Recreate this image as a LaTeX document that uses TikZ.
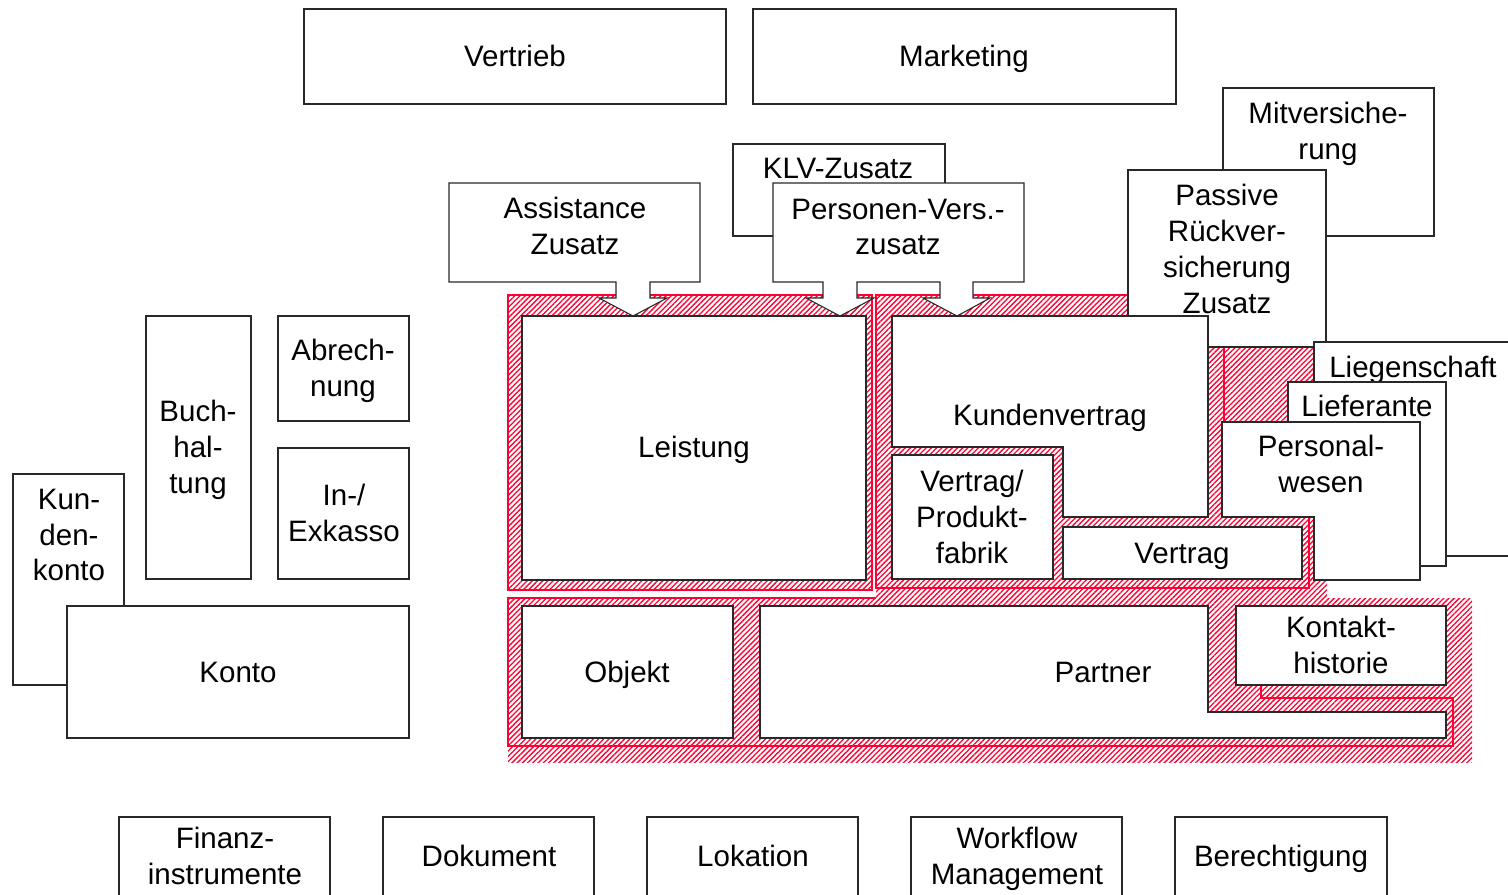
\documentclass[tikz,border=0pt]{standalone}
\usepackage{fontspec}
\setmainfont{Liberation Sans}
\usetikzlibrary{patterns.meta}
\definecolor{hred}{RGB}{255,0,51}
\definecolor{edge}{RGB}{40,40,40}
\begin{document}
\begin{tikzpicture}[x=0.02cm,y=-0.02cm,
  box/.style={draw=edge,fill=white,line width=0.6pt},
  lbl/.style={font=\fontsize{16.8}{20.4}\selectfont,align=center,inner sep=0pt},
  one/.style={lbl,text height=12.3pt,text depth=0pt},
  hatch/.style={preaction={fill=white},pattern={Lines[angle=45,distance=2.1pt,line width=0.75pt]},pattern color=hred},
  grp/.style={draw=hred,line width=1.2pt}]
\useasboundingbox (0,0) rectangle (1508,894);
\clip (0,0) rectangle (1508,894);
% top
\draw[box] (304,9) rectangle (726,104);
\node[one] (vertrieb) at (515,56) {Vertrieb};
\draw[box] (753,9) rectangle (1176,104);
\node[one] (marketing) at (964,56) {Marketing};
% lower group
\path[hatch] (508,598) rectangle (1472,762);
\draw[grp] (508,598) -- (1261,598) -- (1261,698) -- (1453,698) -- (1453,746) -- (508,746) -- cycle;
% Leistung group
\path[hatch] (508,295) rectangle (872,590);
\draw[grp] (508,295) rectangle (872,590);
% Kundenvertrag group
\path[hatch] (876,295) -- (1314,295) -- (1314,580) -- (1327,580) -- (1327,603) -- (876,603) -- cycle;
\draw[grp] (876,295) -- (1224,295) -- (1224,517) -- (1309,517) -- (1309,588) -- (876,588) -- cycle;
% upper boxes
\draw[box] (1223,88) rectangle (1434,236);
\node[lbl] (mitvers) at (1328,134) {Mitversiche-\\rung};
\draw[box] (1128,170) rectangle (1326,347);
\node[lbl] (passive) at (1227,249) {Passive\\Rückver-\\sicherung\\Zusatz};
\draw[box] (733,144) rectangle (945,236);
\node[one] (klv) at (838,168) {KLV-Zusatz};
\draw[box] (773,183) -- (1024,183) -- (1024,282) -- (973,282) -- (973,298) -- (990,298) -- (957,316) -- (923,298) -- (940,298) -- (940,282) -- (857,282) -- (857,298) -- (874,298) -- (840,316) -- (806,298) -- (823,298) -- (823,282) -- (773,282) -- cycle;
\node[lbl] (personen) at (898,227) {Personen-Vers.-\\zusatz};
\draw[box] (449,183) -- (700,183) -- (700,282) -- (650,282) -- (650,298) -- (667,298) -- (633,316) -- (599,298) -- (616,298) -- (616,282) -- (449,282) -- cycle;
\node[lbl] (assistance) at (575,226) {Assistance\\Zusatz};
% Kundenvertrag group content
\draw[box] (892,316) -- (1208,316) -- (1208,517) -- (1063,517) -- (1063,447) -- (892,447) -- cycle;
\node[one] (kundenvertrag) at (1050,415) {Kundenvertrag};
\draw[box] (892,455) rectangle (1053,579);
\node[lbl] (produktfabrik) at (972,517) {Vertrag/\\Produkt-\\fabrik};
% right stack
\draw[box] (1314,342) rectangle (1520,556);
\node[one] (liegenschaft) at (1413,367) {Liegenschaft};
\draw[box] (1288,382) rectangle (1446,566);
\node[one] (lieferante) at (1367,406) {Lieferante};
% hatch patch in front of Lieferante
\path[hatch] (1222,517) rectangle (1314,580);
\draw[grp] (1309,517) -- (1309,588) -- (1280,588);
\draw[box] (1222,422) -- (1420,422) -- (1420,580) -- (1314,580) -- (1314,517) -- (1222,517) -- cycle;
\node[lbl] (personal) at (1321,464) {Personal-\\wesen};
\draw[box] (1063,527) rectangle (1302,579);
\node[one] (vertrag) at (1182,553) {Vertrag};
% Leistung
\draw[box] (522,316) rectangle (866,580);
\node[one] (leistung) at (694,447) {Leistung};
% lower group content
\draw[box] (522,606) rectangle (733,738);
\node[one] (objekt) at (627,672) {Objekt};
\draw[box] (760,606) -- (1208,606) -- (1208,712) -- (1446,712) -- (1446,738) -- (760,738) -- cycle;
\node[one] (partner) at (1103,672) {Partner};
\draw[box] (1236,606) rectangle (1446,685);
\node[lbl] (kontakt) at (1341,645) {Kontakt-\\historie};
% left side
\draw[box] (146,316) rectangle (251,579);
\node[lbl] (buch) at (198,450) {Buch-\\hal-\\tung};
\draw[box] (278,316) rectangle (409,421);
\node[lbl] (abrech) at (343,371) {Abrech-\\nung};
\draw[box] (278,448) rectangle (409,579);
\node[lbl] (inkasso) at (344,513) {In-/\\Exkasso};
\draw[box] (13,474) rectangle (124,685);
\node[lbl] (kundenkonto) at (69,535) {Kun-\\den-\\konto};
\draw[box] (67,606) rectangle (409,738);
\node[one] (konto) at (238,672) {Konto};
% bottom
\draw[box] (119,817) rectangle (330,910);
\node[lbl] (finanz) at (225,856) {Finanz-\\instrumente};
\draw[box] (383,817) rectangle (594,910);
\node[one] (dokument) at (489,856) {Dokument};
\draw[box] (647,817) rectangle (858,910);
\node[one] (lokation) at (753,856) {Lokation};
\draw[box] (911,817) rectangle (1122,910);
\node[lbl] (workflow) at (1017,859) {Workflow\\Management};
\draw[box] (1175,817) rectangle (1387,910);
\node[one] (berechtigung) at (1281,856) {Berechtigung};
\end{tikzpicture}
\end{document}
